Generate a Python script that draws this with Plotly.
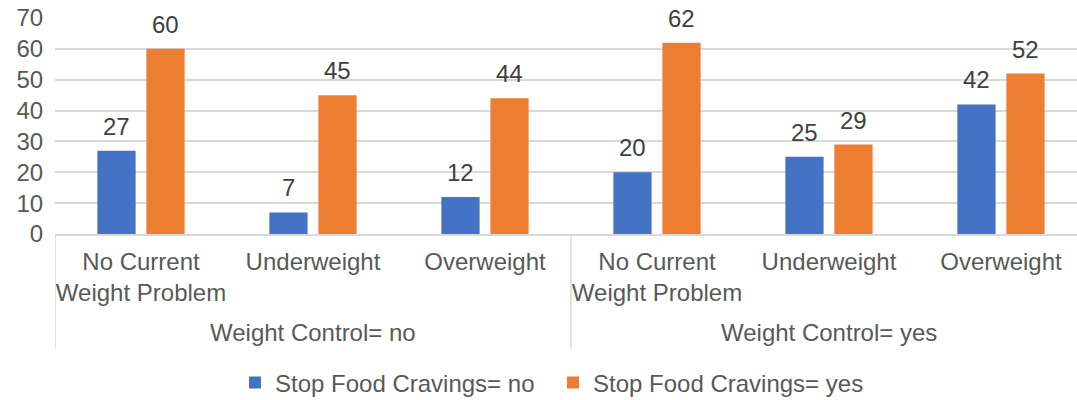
import plotly.graph_objects as go

# Chart data
weight_control = ["Weight Control= no", "Weight Control= yes"]
weight_status = ["No Current<br>Weight Problem", "Underweight", "Overweight"]
series_names = ["Stop Food Cravings= no", "Stop Food Cravings= yes"]
cravings_no = [27, 7, 12, 20, 25, 42]
cravings_yes = [60, 45, 44, 62, 29, 52]
y_ticks = [0, 10, 20, 30, 40, 50, 60, 70]

# One unique key per (control, status) pair keeps the category axis ordered
keys = [f"{c}|{s}" for c in weight_control for s in weight_status]
tick_text = [s for c in weight_control for s in weight_status]

FONT = "Liberation Sans, Arial, sans-serif"
BLUE = "#4472C4"
ORANGE = "#ED7D31"
GRID = "#D9D9D9"
TICK_COLOR = "#595959"
LABEL_COLOR = "#404040"
FS = 24

fig = go.Figure()
fig.add_trace(go.Bar(x=keys, y=cravings_no, name=series_names[0],
                     marker=dict(color=BLUE, line=dict(width=0))))
fig.add_trace(go.Bar(x=keys, y=cravings_yes, name=series_names[1],
                     marker=dict(color=ORANGE, line=dict(width=0))))

# Value labels above each bar
annotations = []
for vals, shift in ((cravings_no, -24.5), (cravings_yes, 24.5)):
    for k, v in zip(keys, vals):
        annotations.append(dict(x=k, y=v, xref="x", yref="y", text=str(v),
                                showarrow=False, xshift=shift, yshift=9,
                                yanchor="bottom",
                                font=dict(family=FONT, size=FS, color=LABEL_COLOR)))

# Outer group labels
n = len(weight_status)
for gi, g in enumerate(weight_control):
    annotations.append(dict(x=gi * n + (n - 1) / 2, y=-0.458, xref="x", yref="paper",
                            text=g, showarrow=False, yanchor="middle",
                            font=dict(family=FONT, size=FS, color=TICK_COLOR)))

# Group divider lines below the axis
shapes = []
for gi in range(len(weight_control)):
    xpos = gi * n - 0.5
    shapes.append(dict(type="line", xref="x", yref="paper", x0=xpos, x1=xpos,
                       y0=0, y1=-0.528, line=dict(color=GRID, width=1.5)))

fig.update_layout(
    width=1077, height=400,
    margin=dict(l=55, r=0, t=18, b=166),
    paper_bgcolor="white", plot_bgcolor="white",
    font=dict(family=FONT, size=FS, color=TICK_COLOR),
    barmode="group", bargap=0.43, bargroupgap=0.22,
    showlegend=True,
    legend=dict(orientation="h", xref="container", yref="container",
                x=235 / 1077, xanchor="left", y=(400 - 383) / 400, yanchor="middle",
                font=dict(family=FONT, size=FS, color=TICK_COLOR),
                itemwidth=30, entrywidth=273, traceorder="normal",
                bgcolor="rgba(0,0,0,0)"),
    annotations=annotations,
    shapes=shapes,
)
fig.update_xaxes(type="category", categoryorder="array", categoryarray=keys,
                 tickvals=keys, ticktext=tick_text, range=[-0.5, 5.442],
                 showgrid=False, ticks="", showline=True, linecolor=GRID, linewidth=1.5,
                 tickfont=dict(family=FONT, size=FS, color=TICK_COLOR),
                 ticklabelstandoff=5, zeroline=False)
fig.update_yaxes(range=[0, 70], tickvals=y_ticks, showgrid=True, gridcolor=GRID,
                 gridwidth=1.5, ticks="outside", ticklen=6, tickcolor="rgba(0,0,0,0)",
                 showline=False, zeroline=False,
                 tickfont=dict(family=FONT, size=FS, color=TICK_COLOR))

fig.write_html("out.html")
